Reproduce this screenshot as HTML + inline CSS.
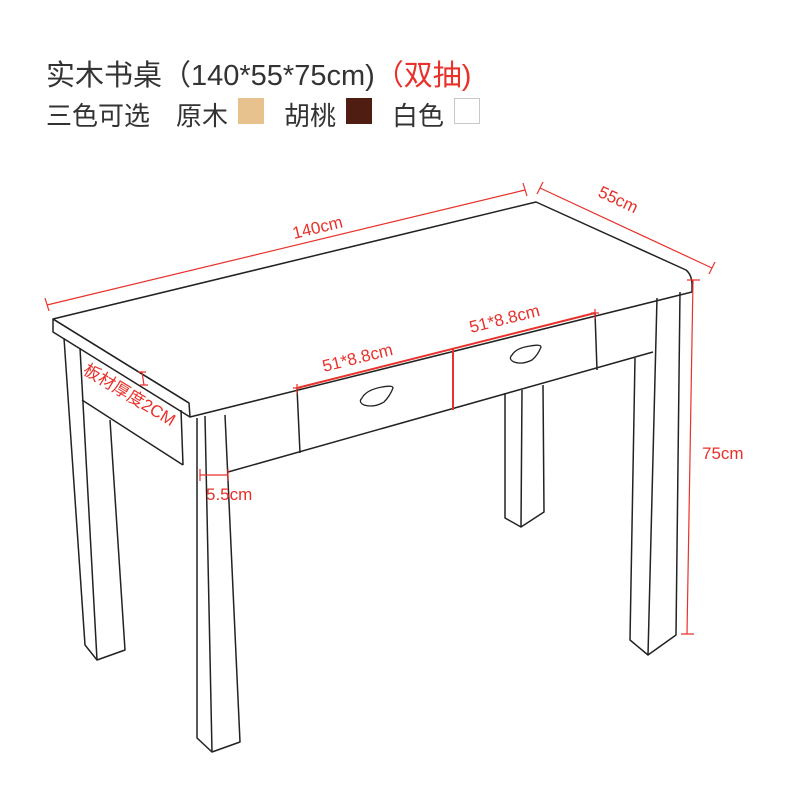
<!DOCTYPE html>
<html><head><meta charset="utf-8"><style>
html,body{margin:0;padding:0;background:#fff;}
body{width:800px;height:800px;overflow:hidden;position:relative;font-family:"Liberation Sans","Noto Sans CJK SC",sans-serif;}
.t{position:absolute;color:#333;white-space:nowrap;}
.sw{position:absolute;width:26px;height:26px;box-sizing:border-box;}
</style></head><body>
<div class="t" style="left:46px;top:52px;font-size:29px;">实木书桌（140*55*75cm)<span style="color:#e8312a">（双抽)</span></div>
<div class="t" style="left:46px;top:96px;font-size:26px;">三色可选</div>
<div class="t" style="left:176px;top:96px;font-size:26px;">原木</div>
<div class="sw" style="left:238px;top:98px;background:#e7c28e;"></div>
<div class="t" style="left:284px;top:96px;font-size:26px;">胡桃</div>
<div class="sw" style="left:346px;top:98px;background:#4f1d11;"></div>
<div class="t" style="left:392px;top:96px;font-size:26px;">白色</div>
<div class="sw" style="left:454px;top:98px;border:1.5px solid #c8c8c8;"></div>
<svg width="800" height="800" style="position:absolute;left:0;top:0" xmlns="http://www.w3.org/2000/svg">
<g fill="none" stroke="#222" stroke-width="1.5" stroke-linejoin="round">
<path d="M53,319 L536,202 L686,270 Q692,275 692,285 L692,292 L190,417 L189,403 Z"/>
<path d="M53,319 L53,332 L190,417"/>
<path d="M53,319 L189,403"/>
<path d="M64,338 L85,645 L97,660 L125,650 L110,420"/>
<path d="M80,348 L97,660"/>
<path d="M82,400 L183,465 M181,410 L183,465"/>
<path d="M197,418 L197,738 L212,752 L240,742 L225,415"/>
<path d="M205,416 L212,752"/>
<path d="M228,472 L653,352"/>
<path d="M297,388 L300,453 M595,313 L597,370"/>
<path d="M505,393 L505,518 L521,527 L544,512 L543,385"/>
<path d="M522,390 L521,527"/>
<path d="M635,358 L630,640 L648,655 L676,635 L680,292"/>
<path d="M657,298 L648,655"/>
<path d="M362,398 Q366,390 382,387 Q393,385 393,388 Q390,396 384,402 Q374,408 364,405 Q358,402 362,398 Z" stroke-width="1.3"/>
<path d="M512,355 Q516,348 530,346 Q541,344 541,347 Q538,355 532,360 Q522,365 514,362 Q508,359 512,355 Z" stroke-width="1.3"/>
</g>
<g stroke="#e8312a" fill="none" stroke-width="1.2">
<path d="M47,305 L525,190 M45,298 L49,311 M523,183 L527,196"/>
<path d="M540,188 L712,268 M543,182 L537,194 M715,262 L709,274"/>
<path d="M693,280 L687,634 M687,280 L700,280 M681,634 L694,634"/>
<path d="M297,388 L595,313" stroke-width="2"/>
<path d="M453,349 L453,410" stroke-width="2"/>
<path d="M293,388 L301,388 M591,313 L599,313 M297,384 L297,394 M595,309 L595,319"/>
<path d="M200,475 L228,475 M200,469 L200,481 M228,469 L228,481"/>
<path d="M142,372 L144,385 M138,372 L146,372 M140,385 L148,385"/>
</g>
<g fill="#e8312a" font-family="Liberation Sans, Noto Sans CJK SC, sans-serif" font-size="17">
<text transform="translate(294,239) rotate(-13.5)">140cm</text>
<text transform="translate(597,196) rotate(25)">55cm</text>
<text x="702" y="459">75cm</text>
<text transform="translate(324,372) rotate(-14)">51*8.8cm</text>
<text transform="translate(471,333) rotate(-14)">51*8.8cm</text>
<text transform="translate(82,373) rotate(31)">板材厚度2CM</text>
<text x="206" y="500">5.5cm</text>
</g>
</svg>
</body></html>
